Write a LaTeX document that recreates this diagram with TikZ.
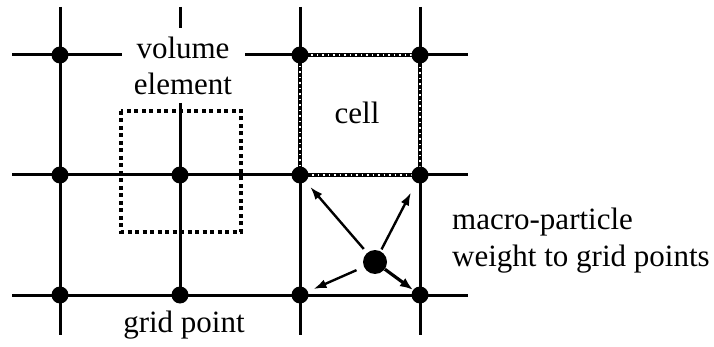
\documentclass[tikz,border=0pt]{standalone}
\usepackage{fontspec}
\setmainfont{Liberation Serif}
\usetikzlibrary{arrows.meta}
\begin{document}
\begin{tikzpicture}[x=1pt,y=-1pt,
  gridline/.style={line width=3pt},
  gpt/.style={circle,fill=black,inner sep=0pt,minimum size=17pt},
  ptl/.style={circle,fill=black,inner sep=0pt,minimum size=24pt},
  arr/.style={line width=2.4pt,-{Latex[length=13pt,width=9pt]}},
  lbl/.style={font=\fontsize{31}{37}\selectfont,inner sep=0pt}]
\useasboundingbox (0,0) rectangle (714,347);
% grid lines
\draw[gridline] (12,55) -- (122,55) (245,55) -- (468,55);
\draw[gridline] (12,175) -- (468,175);
\draw[gridline] (12,295) -- (468,295);
\draw[gridline] (60,7) -- (60,335);
\draw[gridline] (180,7) -- (180,28) (180,103) -- (180,303);
\draw[gridline] (300,7) -- (300,335);
\draw[gridline] (420,7) -- (420,335);
% volume element (dotted)
\draw[line width=4pt,dash pattern=on 4pt off 3.5pt] (121,111) rectangle (241,232);
% cell (thick line with small white marks)
\draw[line width=4pt] (300,55) rectangle (420,175);
\draw[white,line width=1.2pt,dash pattern=on 1.5pt off 4pt] (300,55) rectangle (420,175);
% grid points
\node[gpt] (g11) at (60,55) {};
\node[gpt] (g31) at (300,55) {};
\node[gpt] (g41) at (420,55) {};
\node[gpt] (g12) at (60,175) {};
\node[gpt] (g22) at (180,175) {};
\node[gpt] (g32) at (300,175) {};
\node[gpt] (g42) at (420,175) {};
\node[gpt] (g13) at (60,295) {};
\node[gpt] (g23) at (180,295) {};
\node[gpt] (g33) at (300,295) {};
\node[gpt] (g43) at (420,295) {};
% particle
\node[ptl] (p) at (375,262) {};
\draw[arr,shorten <=5pt,shorten >=7pt] (p) -- (g32);
\draw[arr,shorten <=2pt,shorten >=11pt] (p) -- (g42);
\draw[arr,shorten <=8pt,shorten >=6pt] (p) -- (g33);
\draw[line width=3.2pt,-{Latex[length=13pt,width=10pt]},shorten <=0pt,shorten >=0pt] (p) -- (g43);
% labels
\node[lbl] (vol) at (183,48) {volume};
\node[lbl] (ele) at (183,84) {element};
\node[lbl] (cell) at (357,113) {cell};
\node[lbl,anchor=west] (mp) at (452,222) {macro-particle};
\node[lbl,anchor=west] (wt) at (452,259) {weight to grid points};
\node[lbl] (gp) at (184,325) {grid point};
\end{tikzpicture}
\end{document}
